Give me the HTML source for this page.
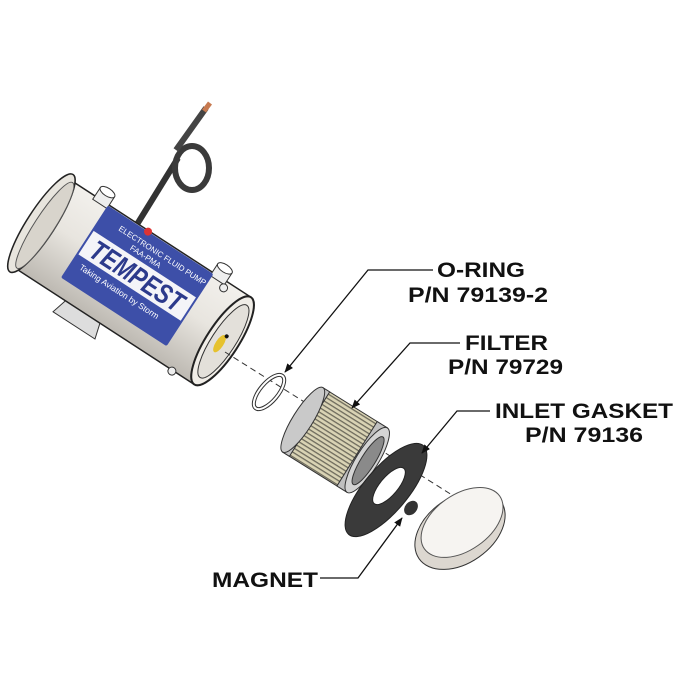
<!DOCTYPE html>
<html><head><meta charset="utf-8"><style>html,body{margin:0;padding:0;background:#fff}svg{display:block}</style></head>
<body>
<svg width="700" height="700" viewBox="0 0 700 700" xmlns="http://www.w3.org/2000/svg">
<defs>
<linearGradient id="body" x1="0" y1="0" x2="0" y2="1">
<stop offset="0" stop-color="#f2f0ec"/><stop offset="0.45" stop-color="#e8e5df"/><stop offset="1" stop-color="#bdb9b2"/></linearGradient>
<pattern id="pleat" width="4" height="4" patternUnits="userSpaceOnUse"><rect width="4" height="4" fill="#d9d3b4"/><rect width="4" height="1.3" fill="#6d6a5c"/></pattern>
<marker id="ah" viewBox="0 0 10 10" refX="9" refY="5" markerWidth="7" markerHeight="7" orient="auto"><path d="M0,1 L10,5 L0,9 z" fill="#111"/></marker>
</defs>

<!-- wire -->
<path d="M136,226 L178,158" stroke="#333" stroke-width="6" fill="none"/>
<ellipse cx="192" cy="168" rx="17" ry="22" fill="none" stroke="#3a3a3a" stroke-width="6"/>
<path d="M176,150 L206,108" stroke="#444" stroke-width="6" fill="none"/>
<path d="M204,111 L210,103" stroke="#c77a50" stroke-width="5"/>

<!-- pump body -->
<g transform="translate(132,282) rotate(33)">
<path d="M-45,50 L-5,50 L0,68 L-50,68 z" fill="#ddd" stroke="#333"/>
<rect x="-108" y="-52" width="216" height="104" fill="url(#body)" stroke="#222" stroke-width="1.5"/>
<ellipse cx="-108" cy="0" rx="14" ry="58" fill="#e8e5de" stroke="#222" stroke-width="1.5"/>
<ellipse cx="-104" cy="0" rx="10" ry="51" fill="#d8d4cc" stroke="#555"/>
<ellipse cx="108" cy="0" rx="16" ry="52" fill="#f0ede7" stroke="#222" stroke-width="2"/>
<ellipse cx="109" cy="0" rx="12" ry="43" fill="#e3e0da" stroke="#333"/>
<ellipse cx="107" cy="4" rx="4" ry="10" fill="#e6c22e"/>
<circle cx="109" cy="-6" r="2" fill="#111"/>
<rect x="-78" y="-62" width="17" height="14" fill="#eee" stroke="#333"/>
<ellipse cx="-69.5" cy="-62" rx="8.5" ry="4" fill="#fff" stroke="#333"/>
<rect x="62" y="-62" width="17" height="14" fill="#eee" stroke="#333"/>
<ellipse cx="70.5" cy="-62" rx="8.5" ry="4" fill="#fff" stroke="#333"/>
<rect x="-62" y="-51" width="126" height="86" fill="#3d4fa8" rx="2"/>
<rect x="-60" y="-22" width="122" height="28" fill="#f4f4f8"/>
<text x="-52" y="2" font-family="Liberation Sans, sans-serif" font-weight="bold" font-style="italic" font-size="28" fill="#2c3a8c" textLength="106" lengthAdjust="spacingAndGlyphs">TEMPEST</text>
<text x="-40" y="-36" font-family="Liberation Sans, sans-serif" font-size="8" fill="#fff">ELECTRONIC FLUID PUMP</text>
<text x="-20" y="-26" font-family="Liberation Sans, sans-serif" font-size="8" fill="#fff">FAA-PMA</text>
<text x="-52" y="18" font-family="Liberation Sans, sans-serif" font-size="8.5" fill="#fff">Taking Aviation by Storm</text>
<circle cx="-14" cy="-51" r="4" fill="#d33"/>
<circle cx="80" cy="-45" r="4" fill="#eee" stroke="#333"/>
<circle cx="82" cy="53" r="4" fill="#eee" stroke="#333"/>
</g>

<!-- axis dashed line -->
<path d="M225,352 L460,500" stroke="#333" stroke-width="1" stroke-dasharray="6,4"/>

<!-- O-ring -->
<ellipse cx="269" cy="392" rx="9" ry="21" transform="rotate(40 269 392)" fill="none" stroke="#333" stroke-width="4"/>
<ellipse cx="269" cy="392" rx="9" ry="21" transform="rotate(40 269 392)" fill="none" stroke="#fff" stroke-width="2"/>

<!-- filter -->
<g transform="translate(335,440) rotate(32)">
<rect x="-38" y="-38" width="76" height="76" fill="url(#pleat)" stroke="#333"/>
<rect x="-38" y="-38" width="8" height="76" fill="#c4c4c4" stroke="#333"/>
<ellipse cx="-38" cy="0" rx="10" ry="38" fill="#c9c9c9" stroke="#333"/>
<rect x="26" y="-38" width="12" height="76" fill="#c0c0c0" stroke="#333"/>
<ellipse cx="38" cy="0" rx="11" ry="38" fill="#d4d4d4" stroke="#333"/>
<ellipse cx="39" cy="0" rx="7" ry="28" fill="#8a8a8a" stroke="#333"/>
</g>

<!-- gasket -->
<ellipse cx="386" cy="490" rx="22" ry="58" transform="rotate(40 386 490)" fill="#3a3a3a" stroke="#222"/>
<ellipse cx="389" cy="486" rx="9" ry="23" transform="rotate(40 389 486)" fill="#fff" stroke="#222"/>

<!-- magnet -->
<ellipse cx="411" cy="508" rx="6" ry="8" transform="rotate(40 411 508)" fill="#333"/>

<!-- cap -->
<g transform="translate(460,530) rotate(-35)">
<ellipse cx="0" cy="0" rx="50" ry="33" fill="#dcd7d0" stroke="#333"/>
<ellipse cx="6" cy="-5" rx="46" ry="28" fill="#f6f4f1" stroke="#555"/>
</g>

<!-- leaders -->
<g stroke="#111" stroke-width="1.3" fill="none" marker-end="url(#ah)">
<path d="M433,270 L368,270 L285,372"/>
<path d="M460,343 L410,343 L352,408"/>
<path d="M490,411 L457,411 L422,453"/>
<path d="M320,578 L358,578 L402,518"/>
</g>

<g font-family="Liberation Sans, Arial, sans-serif" font-weight="bold" font-size="21" fill="#111">
<text x="437" y="277" textLength="88" lengthAdjust="spacingAndGlyphs">O-RING</text>
<text x="408" y="302" textLength="140" lengthAdjust="spacingAndGlyphs">P/N 79139-2</text>
<text x="465" y="350" textLength="83" lengthAdjust="spacingAndGlyphs">FILTER</text>
<text x="448" y="374" textLength="115" lengthAdjust="spacingAndGlyphs">P/N 79729</text>
<text x="495" y="418" textLength="178" lengthAdjust="spacingAndGlyphs">INLET GASKET</text>
<text x="525" y="442" textLength="118" lengthAdjust="spacingAndGlyphs">P/N 79136</text>
<text x="212" y="587" textLength="106" lengthAdjust="spacingAndGlyphs">MAGNET</text>
</g>
</svg>
</body></html>
